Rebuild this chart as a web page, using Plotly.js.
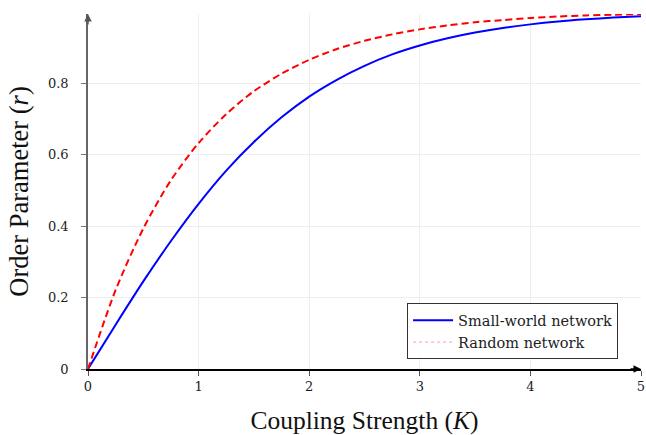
<!DOCTYPE html>
<html><head><meta charset="utf-8">
<script src="https://cdn.plot.ly/plotly-3.0.1.min.js"></script>
<style>body{margin:0;background:#fff}#chart{width:646px;height:435px}</style>
</head><body><div id="chart"></div>
<script>
const coupling = [0,0.25,0.5,0.75,1,1.25,1.5,1.75,2,2.25,2.5,2.75,3,3.25,3.5,3.75,4,4.25,4.5,4.75,5];
const smallWorld = [0,0.124,0.245,0.358,0.462,0.555,0.635,0.704,0.762,0.809,0.848,0.880,0.905,0.925,0.941,0.954,0.964,0.972,0.978,0.983,0.987];
const randomNet = [0,0.221,0.393,0.528,0.632,0.713,0.777,0.826,0.865,0.895,0.918,0.936,0.950,0.961,0.970,0.976,0.982,0.986,0.989,0.991,0.993];
const seriesNames = ["Small-world network","Random network"];
const xTicks = [0,1,2,3,4,5];
const yTicks = [0,0.2,0.4,0.6,0.8];

const traces = [
  {x: coupling, y: smallWorld, name: seriesNames[0], mode: "lines", line: {color: "#0000ff", width: 2, shape: "spline", smoothing: 0.8}},
  {x: coupling, y: randomNet, name: seriesNames[1], mode: "lines", showlegend: false, legendgroup: "rnd",
   line: {color: "#ff0000", width: 2, dash: "7px,4px", shape: "spline", smoothing: 0.8}},
  {x: [null], y: [null], name: seriesNames[1], mode: "lines", legendgroup: "rnd",
   line: {color: "rgba(255,90,90,0.6)", width: 1, dash: "3px,3px"}}
];
const layout = {
  width: 646, height: 435,
  margin: {l: 88, r: 5, t: 14, b: 66},
  paper_bgcolor: "#fff", plot_bgcolor: "#fff",
  font: {family: "DejaVu Serif", size: 12, color: "#222"},
  xaxis: {range: [0, 5], tickvals: xTicks, ticktext: xTicks.map(String), showgrid: true, gridcolor: "#eeeeee",
    zeroline: false, showline: true, linecolor: "#000", linewidth: 1.5, ticks: "outside", ticklen: 5, tickcolor: "#555",
    tickfont: {family: "DejaVu Serif", size: 13},
    title: {text: "Coupling Strength (<i>K</i>)", font: {family: "Liberation Serif", size: 25.5, color: "#111"}, standoff: 18}},
  yaxis: {range: [0, 0.993], tickvals: yTicks, ticktext: yTicks.map(v => v === 0 ? "0" : v.toFixed(1)), showgrid: true, gridcolor: "#eeeeee",
    zeroline: false, showline: true, linecolor: "#666", linewidth: 1.5, ticks: "outside", ticklen: 5, tickcolor: "#777",
    tickfont: {family: "DejaVu Serif", size: 13}, ticklabelstandoff: 10,
    title: {text: "Order Parameter (<i>r</i>)", font: {family: "Liberation Serif", size: 26.5, color: "#111"}, standoff: 12}},
  legend: {x: 0.577, y: 0.185, xanchor: "left", yanchor: "top", bgcolor: "#fff", bordercolor: "#333", borderwidth: 1,
    font: {family: "DejaVu Serif", size: 14.5, color: "#222"}, tracegroupgap: 0, itemwidth: 40},
  showlegend: true,
  annotations: [
    {xref: "paper", yref: "paper", x: 0, y: 1, ax: 0, ay: 12, showarrow: true, arrowhead: 2, arrowsize: 1, arrowwidth: 1.5, arrowcolor: "#555", text: ""},
    {xref: "paper", yref: "paper", x: 1, y: 0, ax: -12, ay: 0, showarrow: true, arrowhead: 2, arrowsize: 1, arrowwidth: 1.5, arrowcolor: "#000", text: ""}
  ]
};
Plotly.newPlot("chart", traces, layout, {displayModeBar: false});
</script></body></html>
